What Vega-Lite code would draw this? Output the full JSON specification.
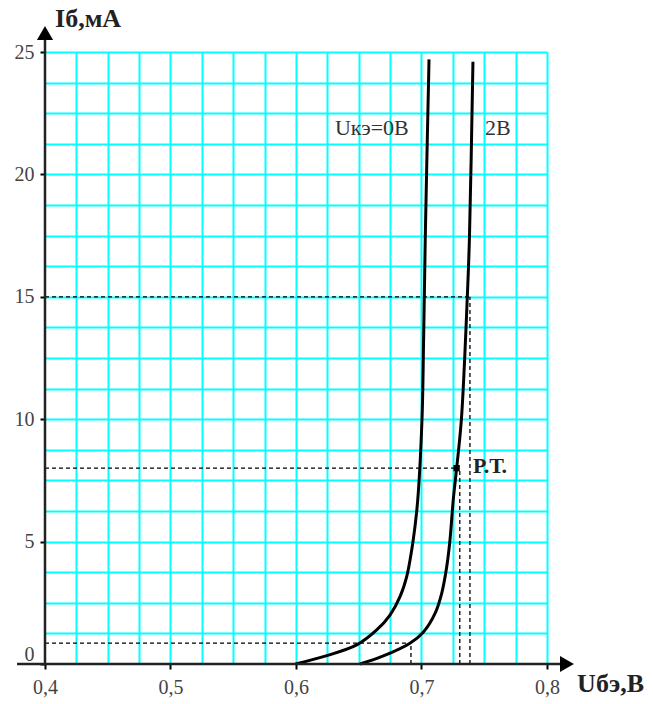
{
  "$schema": "https://vega.github.io/schema/vega-lite/v6.json",
  "width": 502,
  "height": 612,
  "autosize": {"type": "none"},
  "padding": {"left": 45, "top": 52, "right": 106, "bottom": 40},
  "background": "white",
  "config": {"view": {"stroke": null}},
  "datasets": {
    "curves": [
      {"U": 0.5996, "I": 0, "series": "0"},
      {"U": 0.6218, "I": 0.30, "series": "0"},
      {"U": 0.6484, "I": 0.78, "series": "0"},
      {"U": 0.6643, "I": 1.39, "series": "0"},
      {"U": 0.6749, "I": 2.0, "series": "0"},
      {"U": 0.6829, "I": 2.75, "series": "0"},
      {"U": 0.6882, "I": 3.57, "series": "0"},
      {"U": 0.6922, "I": 4.66, "series": "0"},
      {"U": 0.6948, "I": 5.61, "series": "0"},
      {"U": 0.6970, "I": 6.7, "series": "0"},
      {"U": 0.7004, "I": 10, "series": "0"},
      {"U": 0.7017, "I": 13.3, "series": "0"},
      {"U": 0.7030, "I": 17.4, "series": "0"},
      {"U": 0.7060, "I": 24.7, "series": "0"},
      {"U": 0.6510, "I": 0, "series": "2"},
      {"U": 0.6696, "I": 0.33, "series": "2"},
      {"U": 0.6908, "I": 0.85, "series": "2"},
      {"U": 0.7014, "I": 1.3, "series": "2"},
      {"U": 0.7108, "I": 2.07, "series": "2"},
      {"U": 0.7161, "I": 2.89, "series": "2"},
      {"U": 0.7201, "I": 3.97, "series": "2"},
      {"U": 0.7227, "I": 5.07, "series": "2"},
      {"U": 0.7253, "I": 6.7, "series": "2"},
      {"U": 0.7280, "I": 8, "series": "2"},
      {"U": 0.7318, "I": 10, "series": "2"},
      {"U": 0.7365, "I": 15, "series": "2"},
      {"U": 0.7382, "I": 17.4, "series": "2"},
      {"U": 0.7410, "I": 24.6, "series": "2"}
    ],
    "dashed": [
      {"x1": 0.4, "x2": 0.6916, "y1": 0.85, "y2": 0.85},
      {"x1": 0.6916, "x2": 0.6916, "y1": 0, "y2": 0.85},
      {"x1": 0.4, "x2": 0.728, "y1": 8, "y2": 8},
      {"x1": 0.7305, "x2": 0.7305, "y1": 0, "y2": 8},
      {"x1": 0.4, "x2": 0.7386, "y1": 15, "y2": 15},
      {"x1": 0.7386, "x2": 0.7386, "y1": 0, "y2": 15}
    ],
    "axes": [
      {"x1": 0.3777, "x2": 0.815, "y1": 0, "y2": 0},
      {"x1": 0.4, "x2": 0.4, "y1": -0.05, "y2": 25.8}
    ],
    "arrows": [
      {"x": 0.8159, "y": 0, "shape": "triangle-right"},
      {"x": 0.4, "y": 25.78, "shape": "triangle-up"}
    ],
    "point": [{"x": 0.728, "y": 8}],
    "labels": [
      {"x": 0.631, "y": 21.9, "text": "Uкэ=0В"},
      {"x": 0.7506, "y": 21.9, "text": "2В"}
    ],
    "pt": [{"x": 0.741, "y": 8.07, "text": "Р.Т."}],
    "titles": [
      {"x": 0.408, "y": 26.35, "text": "Iб,мА"},
      {"x": 0.824, "y": -0.82, "text": "Uбэ,В"}
    ]
  },
  "layer": [
    {
      "data": {"name": "curves"},
      "mark": {"type": "line", "color": "#000", "strokeWidth": 3, "interpolate": "catmull-rom", "clip": false},
      "encoding": {
        "x": {
          "field": "U", "type": "quantitative",
          "scale": {"domain": [0.4, 0.8], "nice": false, "zero": false},
          "axis": {
            "values": [0.4, 0.425, 0.45, 0.475, 0.5, 0.525, 0.55, 0.575, 0.6, 0.625, 0.65, 0.675, 0.7, 0.725, 0.75, 0.775, 0.8],
            "tickCount": 40,
            "grid": true, "gridColor": "#00FFFF", "gridWidth": 2,
            "gridOpacity": {"condition": {"test": "datum.value < 0.41", "value": 0}, "value": 1},
            "domain": false,
            "ticks": true, "tickColor": "#000", "tickSize": 5, "tickWidth": 2,
            "tickOpacity": {"condition": {"test": "abs(datum.value*10 - round(datum.value*10)) < 0.001", "value": 1}, "value": 0},
            "labelExpr": "abs(datum.value*10 - round(datum.value*10)) < 0.001 ? replace(format(datum.value, '.1f'), '.', ',') : ''",
            "labelFont": "Liberation Serif", "labelFontSize": 20, "labelColor": "#444", "labelPadding": 8,
            "labelFlush": false, "labelOverlap": false, "title": null
          }
        },
        "y": {
          "field": "I", "type": "quantitative",
          "scale": {"domain": [0, 25], "nice": false, "zero": false},
          "axis": {
            "values": [0, 1.25, 2.5, 3.75, 5, 6.25, 7.5, 8.75, 10, 11.25, 12.5, 13.75, 15, 16.25, 17.5, 18.75, 20, 21.25, 22.5, 23.75, 25],
            "tickCount": 40,
            "grid": true, "gridColor": "#00FFFF", "gridWidth": 2,
            "gridOpacity": {"condition": {"test": "datum.value < 0.1", "value": 0}, "value": 1},
            "domain": false,
            "ticks": true, "tickColor": "#000", "tickSize": 5, "tickWidth": 2,
            "tickOpacity": {"condition": {"test": "datum.value % 5 == 0", "value": 1}, "value": 0},
            "labelExpr": "datum.value % 5 == 0 ? format(datum.value, 'd') : ''",
            "labelBaseline": {"condition": {"test": "datum.value == 0", "value": "bottom"}, "value": "middle"},
            "labelFont": "Liberation Serif", "labelFontSize": 20, "labelColor": "#444", "labelPadding": 6,
            "labelFlush": false, "labelOverlap": false, "title": null
          }
        },
        "detail": {"field": "series"}
      }
    },
    {
      "data": {"name": "dashed"},
      "mark": {"type": "rule", "color": "#000", "strokeWidth": 1.3, "strokeDash": [4, 3], "clip": false},
      "encoding": {
        "x": {"field": "x1", "type": "quantitative"},
        "x2": {"field": "x2"},
        "y": {"field": "y1", "type": "quantitative"},
        "y2": {"field": "y2"}
      }
    },
    {
      "data": {"name": "axes"},
      "mark": {"type": "rule", "color": "#222", "strokeWidth": 2.5, "clip": false},
      "encoding": {
        "x": {"field": "x1", "type": "quantitative"},
        "x2": {"field": "x2"},
        "y": {"field": "y1", "type": "quantitative"},
        "y2": {"field": "y2"}
      }
    },
    {
      "data": {"name": "arrows"},
      "mark": {"type": "point", "filled": true, "color": "#000", "opacity": 1, "size": 260, "clip": false},
      "encoding": {
        "x": {"field": "x", "type": "quantitative"},
        "y": {"field": "y", "type": "quantitative"},
        "shape": {"field": "shape", "type": "nominal", "scale": null}
      }
    },
    {
      "data": {"name": "point"},
      "mark": {"type": "square", "filled": true, "color": "#000", "opacity": 1, "size": 40, "clip": false},
      "encoding": {
        "x": {"field": "x", "type": "quantitative"},
        "y": {"field": "y", "type": "quantitative"}
      }
    },
    {
      "data": {"name": "labels"},
      "mark": {"type": "text", "font": "Liberation Serif", "fontSize": 22, "color": "#333", "align": "left", "baseline": "middle", "clip": false},
      "encoding": {
        "x": {"field": "x", "type": "quantitative"},
        "y": {"field": "y", "type": "quantitative"},
        "text": {"field": "text"}
      }
    },
    {
      "data": {"name": "pt"},
      "mark": {"type": "text", "font": "Liberation Serif", "fontSize": 22, "fontWeight": "bold", "color": "#222", "align": "left", "baseline": "middle", "clip": false},
      "encoding": {
        "x": {"field": "x", "type": "quantitative"},
        "y": {"field": "y", "type": "quantitative"},
        "text": {"field": "text"}
      }
    },
    {
      "data": {"name": "titles"},
      "mark": {"type": "text", "font": "Liberation Serif", "fontSize": 26, "fontWeight": "bold", "color": "#222", "align": "left", "baseline": "middle", "clip": false},
      "encoding": {
        "x": {"field": "x", "type": "quantitative"},
        "y": {"field": "y", "type": "quantitative"},
        "text": {"field": "text"}
      }
    }
  ]
}
